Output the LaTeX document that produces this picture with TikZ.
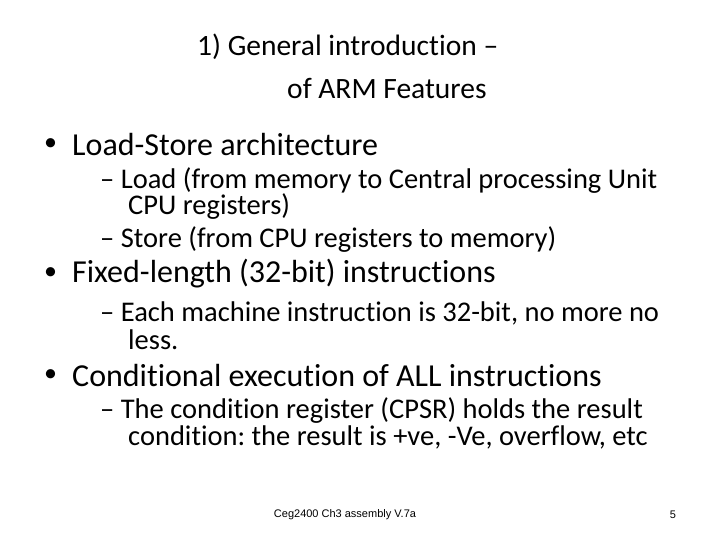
\documentclass[tikz,border=0pt]{standalone}
\usepackage{fontspec}
\setmainfont[RawFeature=-liga]{Carlito}
\newfontfamily\footfont{Liberation Sans}
\frenchspacing
\begin{document}
\begin{tikzpicture}[x=1pt,y=1pt,
  every node/.style={inner sep=0pt,anchor=west},
  ttl/.style={font=\fontsize{29.5}{32}\selectfont},
  lvl/.style={font=\fontsize{32}{36}\selectfont},
  dot/.style={font=\fontsize{26}{30}\selectfont},
  sub/.style={font=\fontsize{28.5}{32}\selectfont},
  foot/.style={font=\footfont\fontsize{11}{13}\selectfont}]
\useasboundingbox (0,0) rectangle (720,-540);
\node[ttl] (t1) at (197,-47) {1) General introduction –};
\node[ttl] (t2) at (287,-88) {of ARM Features};
\node[dot] (d1) at (44,-145) {•};
\node[lvl] (b1) at (72,-145) {Load-Store architecture};
\node[sub] (s1) at (100,-181) {– Load (from memory to Central processing Unit};
\node[sub] (s1b) at (128,-207) {CPU registers)};
\node[sub] (s2) at (100,-240) {– Store (from CPU registers to memory)};
\node[dot] (d2) at (44,-274) {•};
\node[lvl] (b2) at (72,-274) {Fixed-length (32-bit) instructions};
\node[sub] (s3) at (100,-313) {– Each machine instruction is 32-bit, no more no};
\node[sub] (s3b) at (128,-340) {less.};
\node[dot] (d3) at (44,-376) {•};
\node[lvl] (b3) at (72,-376) {Conditional execution of ALL instructions};
\node[sub] (s4) at (100,-411) {– The condition register (CPSR) holds the result};
\node[sub] (s4b) at (128,-437) {condition: the result is +ve, -Ve, overflow, etc};
\node[foot,anchor=center] (f) at (345,-515) {Ceg2400 Ch3 assembly V.7a};
\node[foot,anchor=center] (p) at (673,-515) {5};
\end{tikzpicture}
\end{document}
